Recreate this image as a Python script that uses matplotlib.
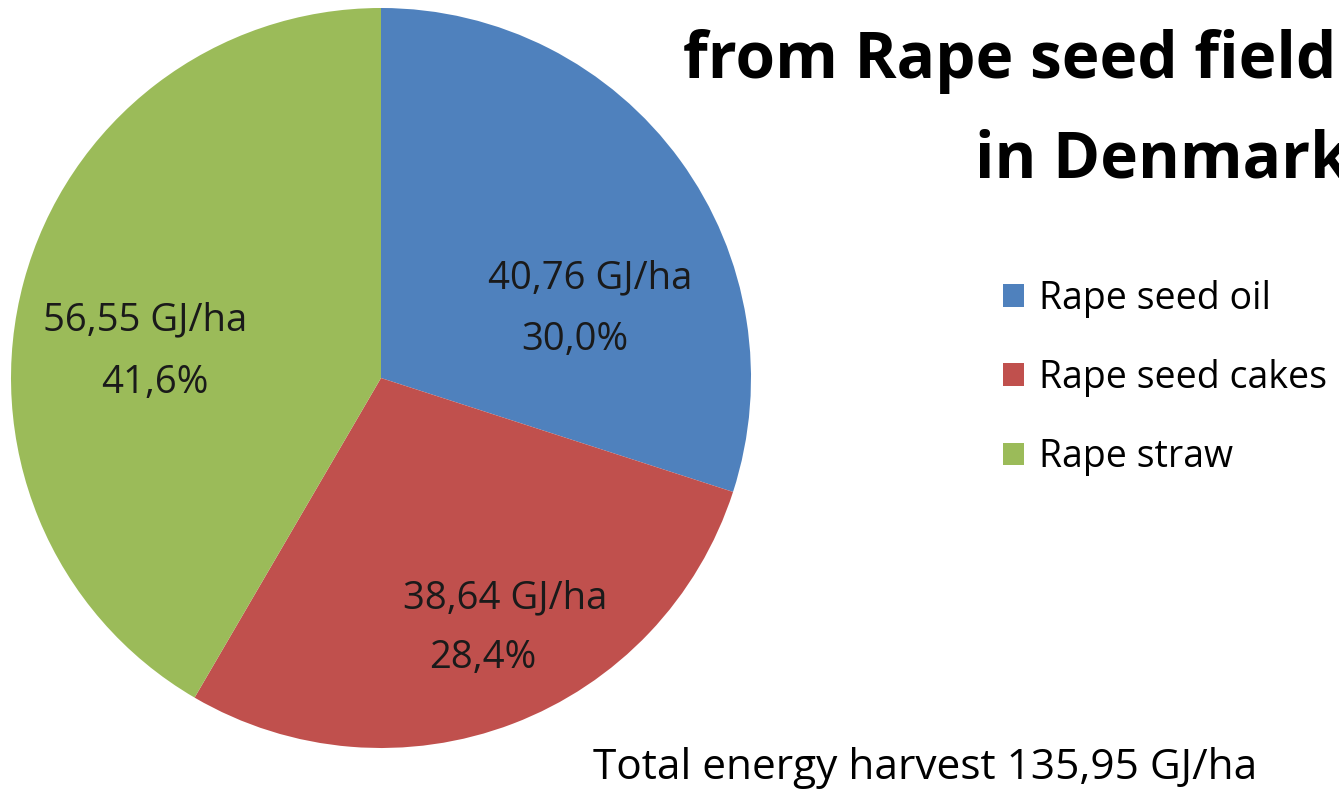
import matplotlib
matplotlib.use("Agg")
import matplotlib.pyplot as plt
from matplotlib.patches import Patch

categories = ["Rape seed oil", "Rape seed cakes", "Rape straw"]
energy = [40.76, 38.64, 56.55]  # GJ/ha
colors = ["#4F81BD", "#C0504D", "#9BBB59"]
total = 135.95

# label positions (pie data units, radius = 1): value line and percent line
value_pos = [(0.565, 0.270), (0.335, -0.595), (-0.638, 0.157)]
pct_pos = [(0.524, 0.103), (0.276, -0.757), (-0.611, -0.014)]

plt.rcParams["font.family"] = ["Open Sans", "DejaVu Sans"]

W, H = 1339, 791
fig = plt.figure(figsize=(W / 100, H / 100), dpi=100)
fig.patch.set_facecolor("white")

cx, cy, r = 381, 378, 370
ax = fig.add_axes([(cx - r) / W, (H - cy - r) / H, 2 * r / W, 2 * r / H])
wedges, _ = ax.pie(energy, colors=colors, startangle=90, counterclock=False,
                   radius=1, wedgeprops=dict(linewidth=0))
ax.set_xlim(-1, 1)
ax.set_ylim(-1, 1)
ax.set_aspect("equal")
ax.axis("off")

s = sum(energy)
for v, vp, pp in zip(energy, value_pos, pct_pos):
    ax.text(vp[0], vp[1], f"{v:.2f}".replace(".", ",") + " GJ/ha",
            ha="center", va="center", fontsize=27.5, color="#1a1a1a")
    ax.text(pp[0], pp[1], f"{100 * v / s:.1f}".replace(".", ",") + "%",
            ha="center", va="center", fontsize=27.5, color="#1a1a1a")

# title (cut off at the right edge, as in the original)
fig.text(683 / W, 1 - 78 / H, "from Rape seed fields", fontsize=46,
         fontweight="bold", ha="left", va="baseline")
fig.text(975 / W, 1 - 177 / H, "in Denmark", fontsize=46,
         fontweight="bold", ha="left", va="baseline")

handles = [Patch(facecolor=c, edgecolor="none") for c in colors]
fig.legend(handles, categories, loc="center left",
           bbox_to_anchor=(1003 / W, 1 - 378 / H), frameon=False,
           fontsize=27, labelspacing=1.1, handlelength=0.55, handleheight=0.55,
           handletextpad=0.4, borderpad=0, borderaxespad=0)

fig.text(925 / W, 1 - 768 / H, f"Total energy harvest {total:.2f}".replace(".", ",") + " GJ/ha",
         fontsize=30.5, ha="center", va="center")

fig.savefig("out.png", dpi=100)
